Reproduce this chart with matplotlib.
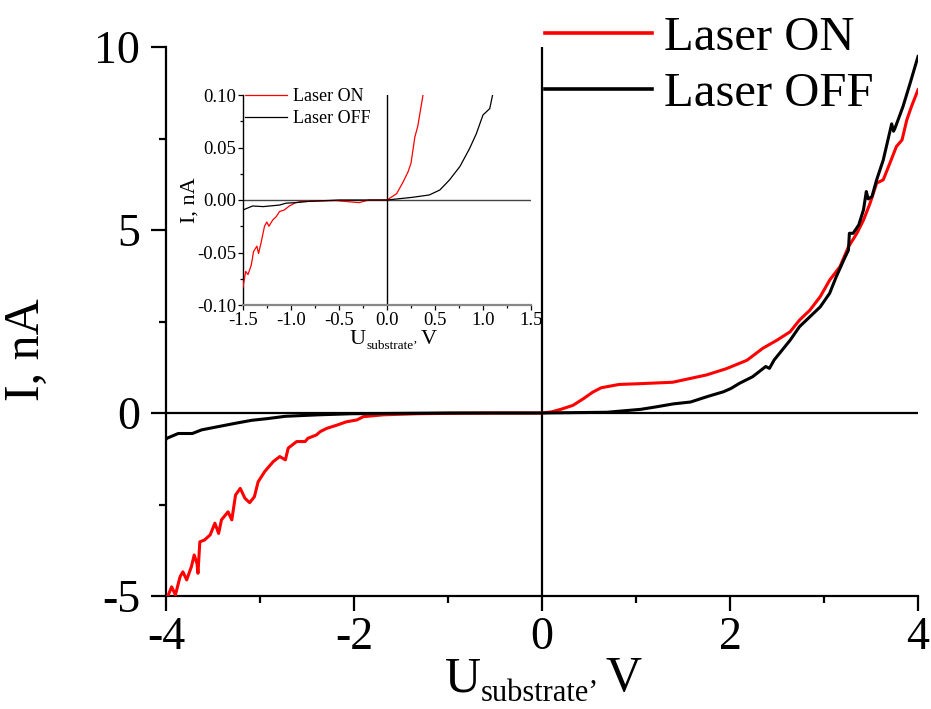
import matplotlib
matplotlib.use("Agg")
import matplotlib.pyplot as plt
from matplotlib.ticker import MultipleLocator

plt.rcParams['font.family'] = ['Liberation Serif', 'DejaVu Serif']
plt.rcParams['axes.unicode_minus'] = False

# ---- main I-V curves (V, nA) ----
on_v = [-4.00, -3.98, -3.94, -3.90, -3.85, -3.82, -3.78, -3.73, -3.70, -3.67, -3.66,
        -3.64, -3.59, -3.53, -3.48, -3.44, -3.41, -3.34, -3.30, -3.26, -3.21, -3.16,
        -3.11, -3.06, -3.02, -2.95, -2.86, -2.79, -2.73, -2.70, -2.61, -2.52, -2.49,
        -2.40, -2.36, -2.29, -2.18, -2.08, -1.97, -1.90, -1.69, -1.33, -1.00, -0.50,
        0.00, 0.10, 0.20, 0.33, 0.44, 0.54, 0.63, 0.82, 1.03, 1.39, 1.57, 1.75, 1.96,
        2.18, 2.35, 2.50, 2.64, 2.74, 2.85, 2.96, 3.06, 3.17, 3.26, 3.35, 3.42, 3.49,
        3.56, 3.63, 3.70, 3.77, 3.83, 3.88, 3.93, 4.00]
on_i = [-5.20, -5.00, -4.75, -4.97, -4.47, -4.34, -4.56, -4.20, -3.88, -4.11, -4.38,
        -3.52, -3.47, -3.33, -3.01, -3.29, -2.92, -2.70, -2.92, -2.24, -2.06, -2.33,
        -2.45, -2.29, -1.88, -1.60, -1.33, -1.19, -1.28, -0.96, -0.78, -0.78, -0.69,
        -0.60, -0.51, -0.42, -0.33, -0.24, -0.19, -0.10, -0.05, -0.02, -0.01, 0.00,
        0.00, 0.03, 0.10, 0.21, 0.39, 0.57, 0.69, 0.78, 0.80, 0.84, 0.94, 1.04, 1.21,
        1.44, 1.77, 1.99, 2.22, 2.54, 2.81, 3.18, 3.63, 4.00, 4.54, 4.91, 5.27, 5.73,
        6.28, 6.37, 6.82, 7.28, 7.46, 8.00, 8.37, 8.83]

off_v = [-4.00, -3.99, -3.87, -3.72, -3.62, -3.44, -3.26, -3.09, -2.91, -2.73, -2.38,
         -2.02, -1.50, -1.00, 0.00, 0.69, 1.05, 1.22, 1.40, 1.58, 1.76, 1.93, 2.01,
         2.10, 2.24, 2.38, 2.42, 2.47, 2.64, 2.74, 2.85, 2.96, 3.06, 3.13, 3.21, 3.26,
         3.27, 3.31, 3.37, 3.42, 3.45, 3.47, 3.51, 3.56, 3.63, 3.68, 3.72, 3.74, 3.755,
         3.84, 3.915, 4.00]
off_i = [-0.72, -0.69, -0.56, -0.56, -0.46, -0.37, -0.28, -0.20, -0.15, -0.09, -0.05,
         -0.02, -0.01, 0.00, 0.00, 0.02, 0.10, 0.17, 0.25, 0.30, 0.45, 0.58, 0.67,
         0.81, 0.99, 1.27, 1.22, 1.45, 1.99, 2.36, 2.63, 2.90, 3.27, 3.72, 4.18, 4.45,
         4.91, 4.91, 5.14, 5.55, 6.05, 5.85, 5.91, 6.37, 6.91, 7.46, 7.90, 7.70, 7.78,
         8.37, 9.00, 9.74]

# ---- inset: low-current region (V, nA) ----
ins_on_v = [-1.500, -1.472, -1.448, -1.414, -1.390, -1.355, -1.338, -1.310, -1.276,
            -1.252, -1.230, -1.190, -1.155, -1.120, -1.070, -1.017, -0.950, -0.880,
            -0.530, -0.290, -0.190, 0.000, 0.100, 0.167, 0.220, 0.250, 0.290, 0.320,
            0.375]
ins_on_i = [-0.083, -0.068, -0.071, -0.062, -0.049, -0.044, -0.051, -0.040, -0.025,
            -0.021, -0.025, -0.019, -0.016, -0.011, -0.0095, -0.0057, -0.0025, -0.0013,
            -0.0006, -0.0025, 0.000, 0.000, 0.006, 0.017, 0.027, 0.035, 0.060, 0.070,
            0.100]
ins_off_v = [-1.50, -1.40, -1.29, -1.22, -1.12, -1.05, -0.95, -0.81, -0.50, 0.00,
             0.27, 0.44, 0.55, 0.65, 0.76, 0.86, 0.93, 1.00, 1.07, 1.10]
ins_off_i = [-0.0095, -0.0057, -0.0063, -0.0057, -0.0048, -0.003, -0.0025, -0.0013,
             0.000, 0.000, 0.0026, 0.0048, 0.0095, 0.019, 0.032, 0.049, 0.063, 0.081,
             0.087, 0.100]

series_names = ['Laser ON', 'Laser OFF']
main_xticks = [-4, -2, 0, 2, 4]
main_yticks = [-5, 0, 5, 10]
ins_xticks = [-1.5, -1.0, -0.5, 0.0, 0.5, 1.0, 1.5]
ins_yticks = [-0.10, -0.05, 0.00, 0.05, 0.10]

W, H = 931, 709
fig = plt.figure(figsize=(W / 100, H / 100), dpi=100)


def px(x, y):
    """Pixel position (from top-left) to figure fraction."""
    return x / W, 1 - y / H


def axis_title(x, y, size, sub_size, sub_drop, gap):
    """Draw 'U_substrate, V' with a real subscript, starting at pixel (x, y)."""
    r = fig.canvas.get_renderer()
    t1 = fig.text(*px(x, y), 'U', fontsize=size, va='baseline', ha='left')
    w1 = t1.get_window_extent(r).width
    t2 = fig.text(*px(x + w1, y + sub_drop), 'substrate\u2019', fontsize=sub_size,
                  va='baseline', ha='left')
    w2 = t2.get_window_extent(r).width
    fig.text(*px(x + w1 + w2 + gap, y), 'V', fontsize=size, va='baseline', ha='left')


ax = fig.add_axes([166 / W, 1 - 596 / H, (918 - 166) / W, (596 - 47) / H])
ax.plot(on_v, on_i, color='#ff0000', lw=2.2, label=series_names[0], zorder=3)
ax.plot(off_v, off_i, color='black', lw=2.2, label=series_names[1], zorder=3)
ax.axhline(0, color='black', lw=1.6, zorder=2)
ax.axvline(0, color='black', lw=1.6, zorder=2)
ax.set_xlim(-4, 4)
ax.set_ylim(-5, 10)
for s in ('top', 'right'):
    ax.spines[s].set_visible(False)
for s in ('left', 'bottom'):
    ax.spines[s].set_linewidth(1.6)
ax.set_xticks(main_xticks)
ax.set_yticks(main_yticks)
ax.xaxis.set_minor_locator(MultipleLocator(1))
ax.yaxis.set_minor_locator(MultipleLocator(2.5))
ax.tick_params(which='major', direction='out', length=11, width=1.6, labelsize=33)
ax.tick_params(which='minor', direction='out', length=5, width=1.6)
ax.tick_params(axis='x', which='major', pad=4)
ax.tick_params(axis='y', which='major', pad=7.5)
fig.text(*px(27, 350), 'I, nA', fontsize=36, rotation=90, ha='center', va='center')

leg = fig.legend(loc='upper left', bbox_to_anchor=px(545, 16),
                 fontsize=35, frameon=False, borderpad=0, borderaxespad=0,
                 handlelength=2.2, handletextpad=0.25, labelspacing=0.25)
for ln in leg.get_lines():
    ln.set_linewidth(2.6)

# ---- inset axes ----
ins = fig.add_axes([243 / W, 1 - 305 / H, (531 - 243) / W, (305 - 95) / H])
ins.plot(ins_on_v, ins_on_i, color='#ff0000', lw=0.9, label=series_names[0], zorder=3)
ins.plot(ins_off_v, ins_off_i, color='black', lw=0.9, label=series_names[1], zorder=3)
ins.axhline(0, color='#444444', lw=1.0, zorder=2)
ins.axvline(0, color='black', lw=1.0, zorder=2)
ins.set_xlim(-1.5, 1.5)
ins.set_ylim(-0.1, 0.1)
for s in ('top', 'right'):
    ins.spines[s].set_visible(False)
ins.spines['left'].set_linewidth(1.0)
ins.spines['bottom'].set_linewidth(1.6)
ins.spines['bottom'].set_color('#888888')
ins.set_xticks(ins_xticks)
ins.set_xticklabels([f'{v:.1f}' for v in ins_xticks])
ins.set_yticks(ins_yticks)
ins.set_yticklabels([f'{v:.2f}' for v in ins_yticks])
ins.xaxis.set_minor_locator(MultipleLocator(0.25))
ins.yaxis.set_minor_locator(MultipleLocator(0.025))
ins.tick_params(which='major', direction='out', length=3.5, width=0.9, labelsize=13.5, pad=1.5)
ins.tick_params(which='minor', direction='out', length=2, width=0.9)
fig.text(*px(190, 200), 'I, nA', fontsize=16, rotation=90, ha='center', va='center')
ins.legend(loc='upper left', bbox_to_anchor=px(245, 88),
           bbox_transform=fig.transFigure, fontsize=13, frameon=False,
           borderpad=0, borderaxespad=0, handlelength=2.3, handletextpad=0.35,
           labelspacing=0.3)

# axis titles with subscripts
axis_title(445, 691, 36, 22, 10, 6)
axis_title(350, 344, 16, 9.5, 5, 3)

fig.savefig('out.png', dpi=100)
